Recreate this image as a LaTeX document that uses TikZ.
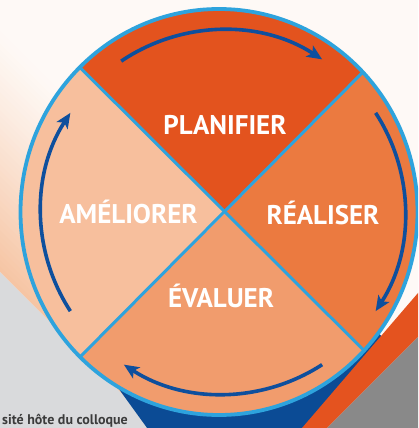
\documentclass[tikz,border=0pt]{standalone}
\usepackage{fontspec}
\setmainfont{PT Sans}
\usetikzlibrary{arrows.meta}
\definecolor{bgwhite}{HTML}{FEF9F6}
\definecolor{peachbg}{HTML}{F6C5A4}
\definecolor{lightgray}{HTML}{D9DADC}
\definecolor{darkblue}{HTML}{0B4B95}
\definecolor{stripeorange}{HTML}{E4531F}
\definecolor{darkgray}{HTML}{898989}
\definecolor{wtop}{HTML}{E3531E}
\definecolor{wright}{HTML}{EB7A40}
\definecolor{wbottom}{HTML}{F19C6D}
\definecolor{wleft}{HTML}{F7BF9D}
\definecolor{ringblue}{HTML}{2EA3DD}
\definecolor{arrowblue}{HTML}{0E4F9D}
\definecolor{textgray}{HTML}{3B3B3B}
\begin{document}
\begin{tikzpicture}[x=1pt,y=-1pt,
  label/.style={inner sep=0pt, anchor=base, text=white, font=\fontsize{27}{30}\selectfont\bfseries},
  divider/.style={draw=ringblue, line width=3pt},
  flow/.style={draw=arrowblue, line width=3.6pt, -{Stealth[length=15pt,width=13pt,inset=3.5pt]}}]
\useasboundingbox (0,0) rectangle (418,428);
\begin{scope}
\clip (0,0) rectangle (418,428);
% background
\fill[bgwhite] (0,0) rectangle (418,428);
\foreach \i in {0,...,39} {
  \pgfmathsetmacro{\ca}{272-6*\i}
  \pgfmathsetmacro{\cb}{272-6*(\i+1)-0.6}
  \pgfmathsetmacro{\p}{100*(1-\i/40)^1.2}
  \fill[peachbg!\p!bgwhite] (-20,\ca-20) -- (520,\ca+520) -- (520,\cb+520) -- (-20,\cb-20) -- cycle;
}
\fill[lightgray] (-20,252) -- (180,452) -- (-20,452) -- cycle;
\fill[darkblue] (95,356) -- (150,432) -- (305,432) -- (385,340) -- (300,250) -- (150,300) -- cycle;
\fill[stripeorange] (296,435) -- (430,279) -- (430,325) -- (320,435) -- cycle;
\fill[darkgray] (320,435) -- (430,325) -- (430,435) -- cycle;
% wheel
\coordinate (o) at (219,212);
\coordinate (x) at (225,213);
\coordinate (a) at (223,212);
\coordinate (tl) at (-61,-73);
\coordinate (tr) at (507,-73);
\coordinate (bl) at (-61,499);
\coordinate (br) at (509,495);
\begin{scope}
\clip (o) ellipse [x radius=198.5, y radius=203];
\fill[wtop] (x) -- (tl) -- (tr) -- cycle;
\fill[wright] (x) -- (tr) -- (br) -- cycle;
\fill[wbottom] (x) -- (br) -- (bl) -- cycle;
\fill[wleft] (x) -- (bl) -- (tl) -- cycle;
\draw[divider] (tl) -- (br);
\draw[divider] (tr) -- (bl);
\end{scope}
\draw[ringblue, line width=3.8pt] (o) ellipse [x radius=198.5, y radius=203];
% arrows
\draw[flow] ([shift={(-124:182)}]a) arc[start angle=-124, end angle=-57, radius=182];
\draw[flow] ([shift={(-33:182)}]a) arc[start angle=-33, end angle=33, radius=182];
\draw[flow] ([shift={(57:182)}]a) arc[start angle=57, end angle=123, radius=182];
\draw[flow] ([shift={(147:182)}]a) arc[start angle=147, end angle=213, radius=182];
% labels
\node[label] (plan) at (225,134) {PLANIFIER};
\node[label] (real) at (323,224) {RÉALISER};
\node[label] (amel) at (128.5,223) {AMÉLIORER};
\node[label] (eval) at (221,307) {ÉVALUER};
\node[inner sep=0pt, anchor=base west, text=textgray, font=\fontsize{14}{16}\selectfont\bfseries] (host) at (2,424.5) {sité hôte du colloque};
\end{scope}
\end{tikzpicture}
\end{document}
